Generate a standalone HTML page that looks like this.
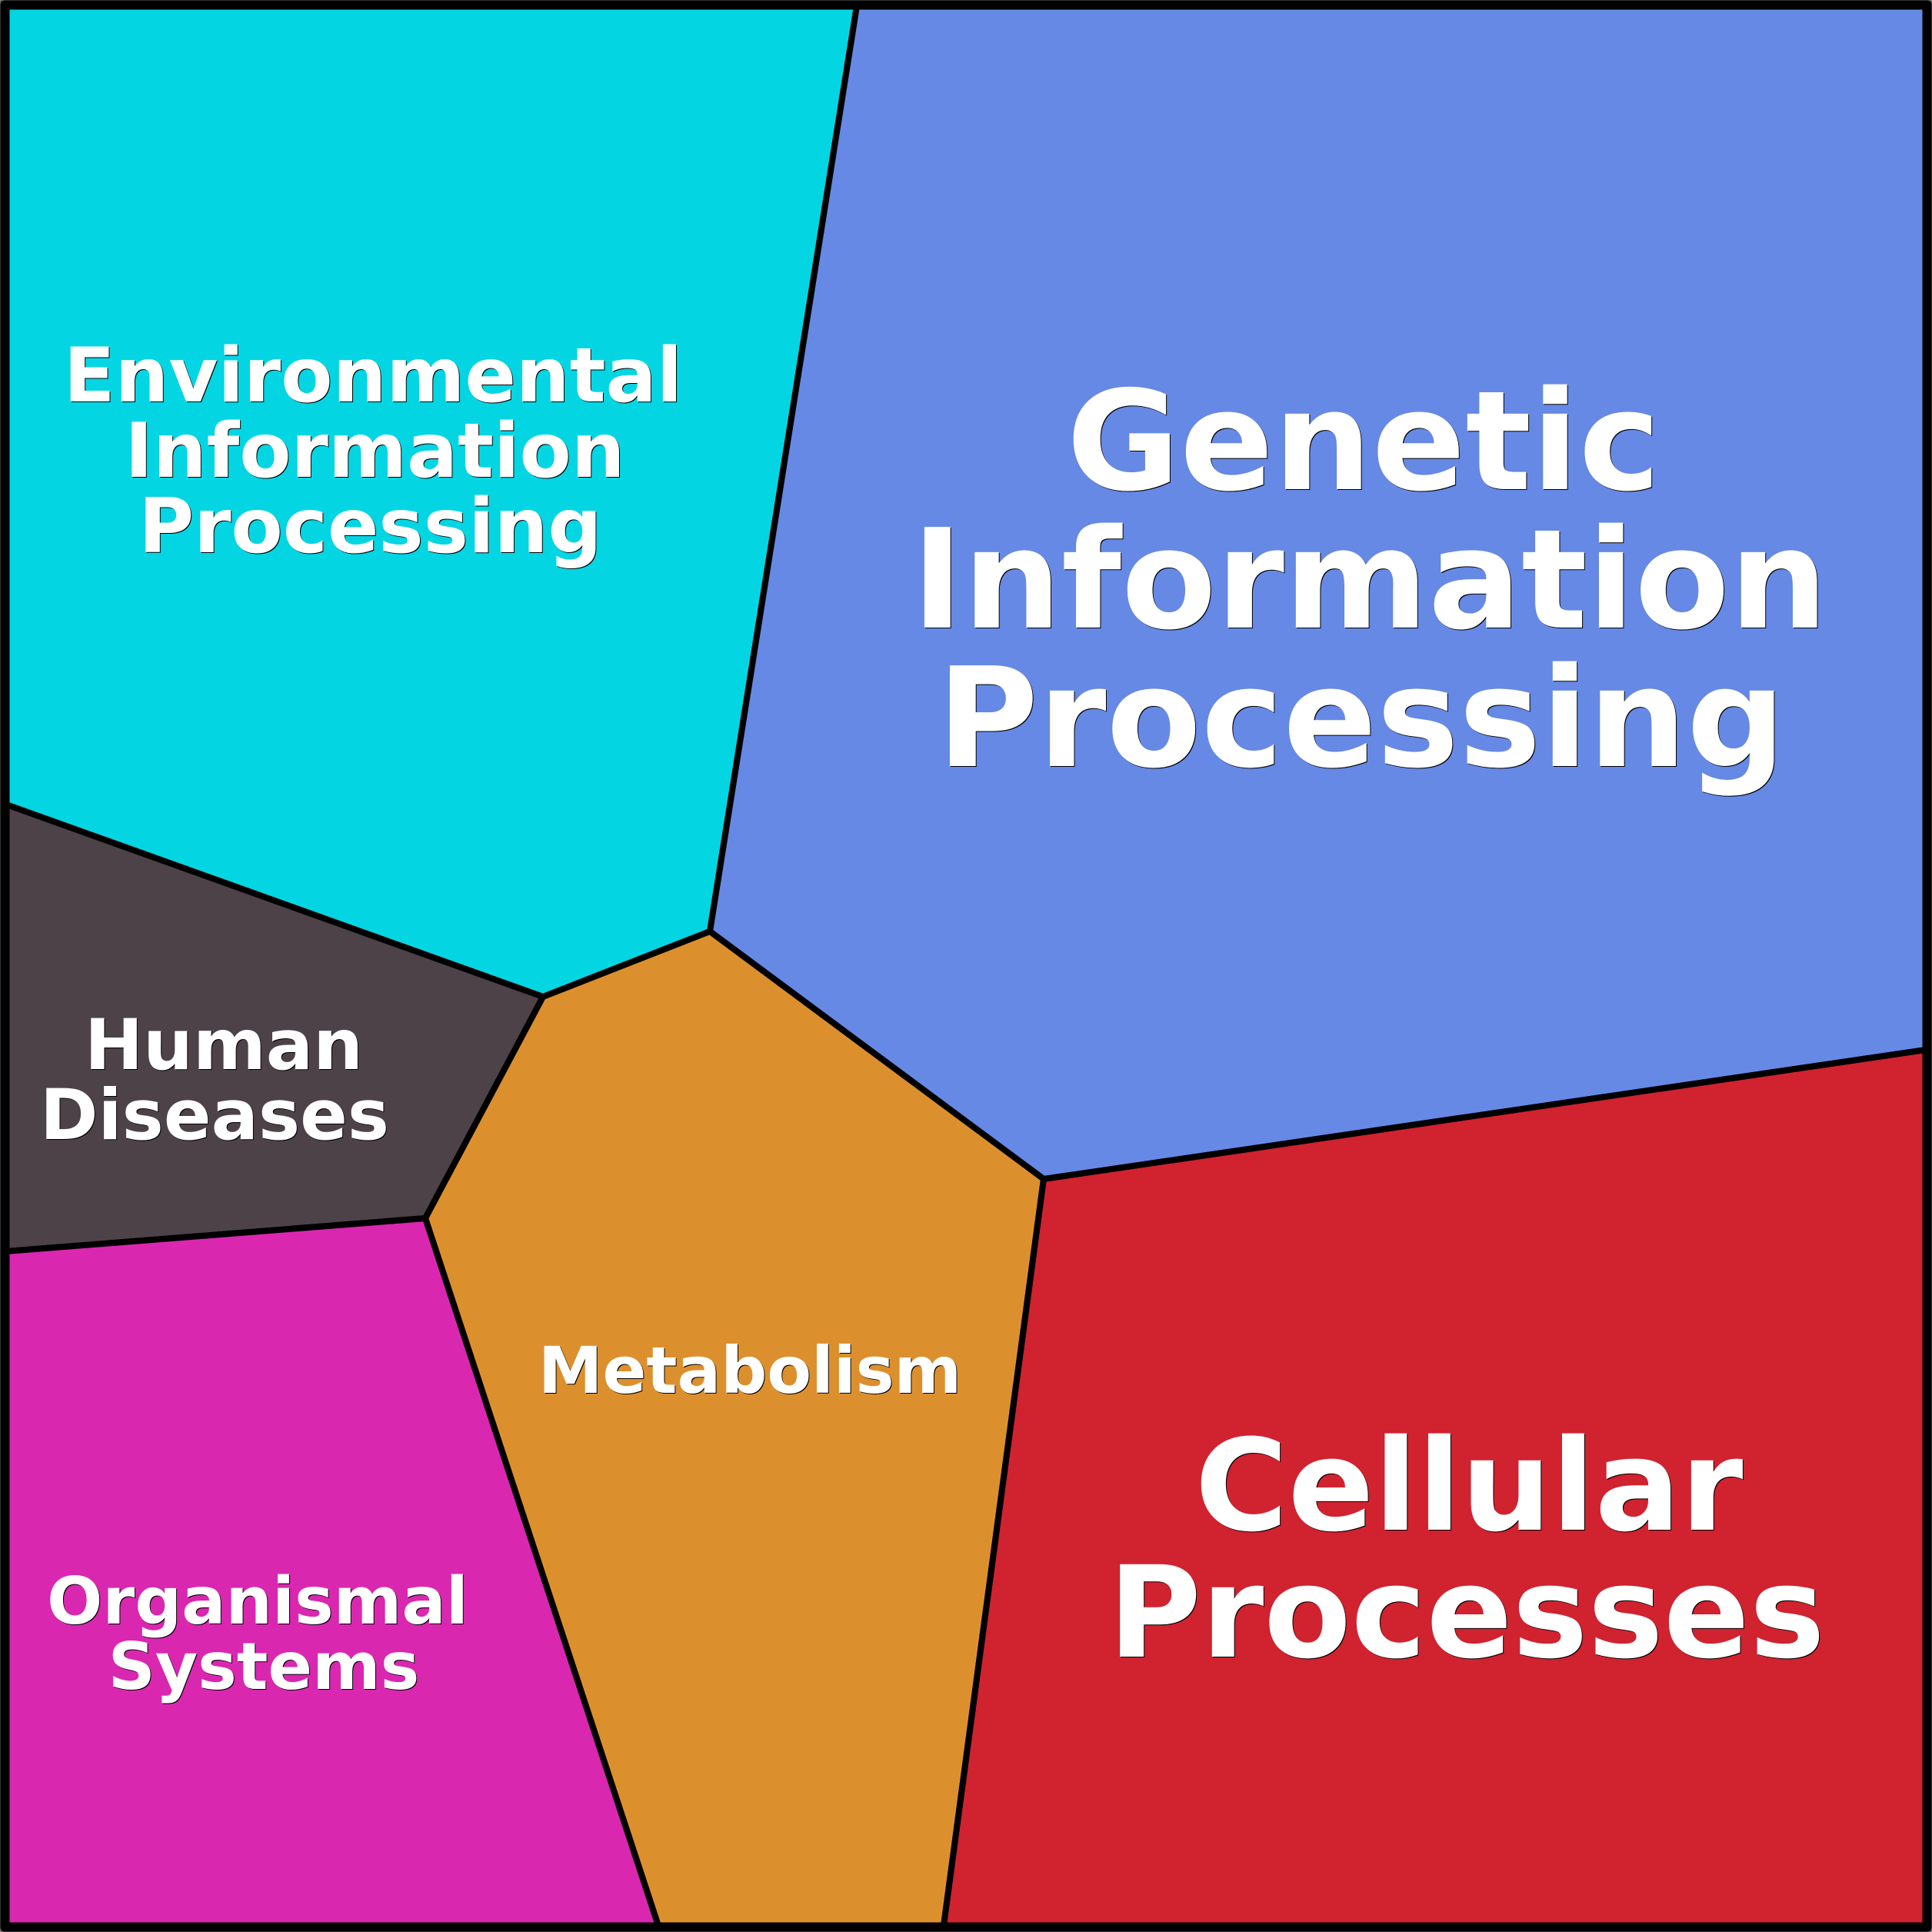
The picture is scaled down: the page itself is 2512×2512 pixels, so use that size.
<!DOCTYPE html>
<html><head><meta charset="utf-8"><style>
html,body{margin:0;padding:0;background:#000}
svg{display:block}
text{font-family:"DejaVu Sans",sans-serif;font-weight:bold;fill:#fff;text-anchor:middle}
.s{fill:#000}
</style></head><body>
<svg width="2512" height="2512" viewBox="0 0 2512 2512" xmlns="http://www.w3.org/2000/svg">
<rect width="2512" height="2512" fill="#777"/>
<rect x="0.5" y="0.5" width="2511" height="2511" rx="6" fill="#000" stroke="#333" stroke-width="1"/>
<g stroke="#000" stroke-width="8" stroke-linejoin="miter">
<polygon fill="#04d5e3" points="8,8 1114,8 923,1211 706,1296 8,1046"/>
<polygon fill="#6689e5" points="1114,8 2504,8 2504,1365 1357,1533 923,1211"/>
<polygon fill="#4c4248" points="8,1046 706,1296 553,1584 8,1627"/>
<polygon fill="#dc902d" points="923,1211 1357,1533 1227,2504 856,2504 553,1584 706,1296"/>
<polygon fill="#da27b0" points="8,1627 553,1584 856,2504 8,2504"/>
<polygon fill="#d1222f" points="1357,1533 2504,1365 2504,2504 1227,2504"/>
</g>
<rect x="7" y="7" width="2498" height="2498" fill="none" stroke="#000" stroke-width="11"/>
<g font-size="98">
<text class="s" x="486" y="523">Environmental</text><text x="485" y="522">Environmental</text>
<text class="s" x="488.500" y="621">Information</text><text x="487.500" y="620">Information</text>
<text class="s" x="482.500" y="719">Processing</text><text x="481.500" y="718">Processing</text>
</g>
<g font-size="179.5">
<text class="s" x="1774" y="637">Genetic</text><text x="1773" y="636">Genetic</text>
<text class="s" x="1782" y="817">Information</text><text x="1781" y="816">Information</text>
<text class="s" x="1771" y="997">Processing</text><text x="1770" y="996">Processing</text>
</g>
<g font-size="91">
<text class="s" x="292" y="1391">Human</text><text x="291" y="1390">Human</text>
<text class="s" x="280" y="1482">Diseases</text><text x="279" y="1481">Diseases</text>
</g>
<g font-size="84">
<text class="s" x="976" y="1812">Metabolism</text><text x="975" y="1811">Metabolism</text>
</g>
<g font-size="85">
<text class="s" x="336" y="2112">Organismal</text><text x="335" y="2111">Organismal</text>
<text class="s" x="344" y="2197">Systems</text><text x="343" y="2196">Systems</text>
</g>
<g font-size="165">
<text class="s" x="1911" y="1990">Cellular</text><text x="1910" y="1989">Cellular</text>
<text class="s" x="1908" y="2155">Processes</text><text x="1907" y="2154">Processes</text>
</g>
</svg>
</body></html>
